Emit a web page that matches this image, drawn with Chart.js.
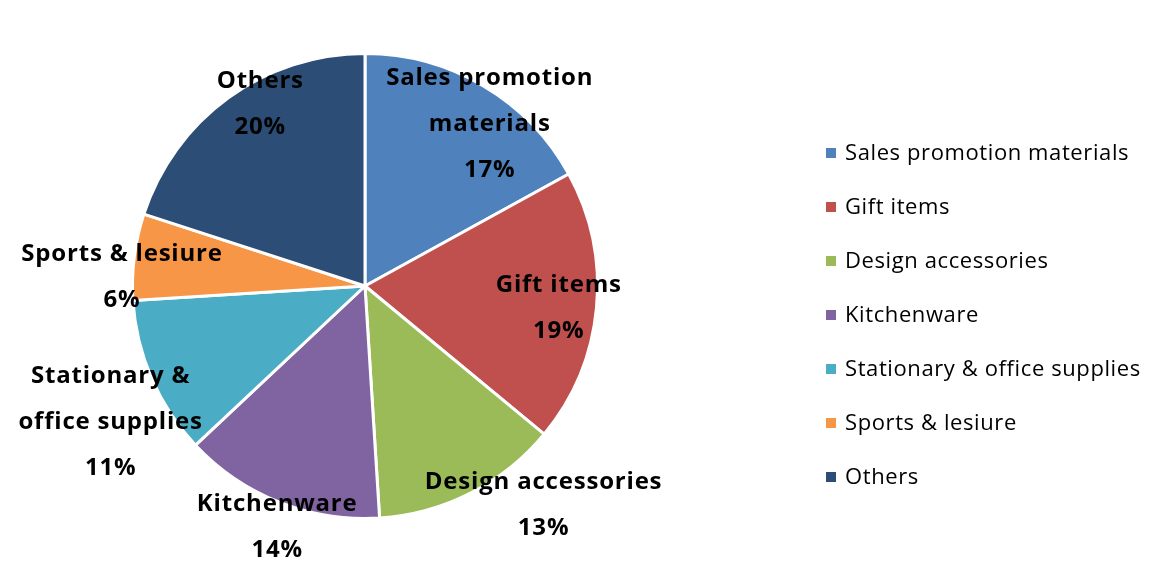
<!DOCTYPE html>
<html>
<head>
<meta charset="utf-8">
<script src="https://cdn.jsdelivr.net/npm/chart.js@4.4.1/dist/chart.umd.min.js"></script>
<style>
  html, body { margin: 0; padding: 0; background: #fff; }
  #wrap { width: 1160px; height: 584px; }
</style>
</head>
<body>
<div id="wrap"><canvas id="myPie"></canvas></div>
<script>
const categories = ['Sales promotion materials', 'Gift items', 'Design accessories', 'Kitchenware',
    'Stationary & office supplies', 'Sports & lesiure', 'Others']
const shares = [17, 19, 13, 14, 11, 6, 20]
// how each data label is broken over lines
const labelLines = [
    ['Sales promotion', 'materials'],
    ['Gift items'],
    ['Design accessories'],
    ['Kitchenware'],
    ['Stationary &', 'office supplies'],
    ['Sports & lesiure'],
    ['Others']
]
const colors = ['#4F81BD', '#C0504D', '#9BBB59', '#8064A2', '#4BACC6', '#F79646', '#2C4D75']

// label placement relative to each slice: distance as fraction of radius, angle nudge in degrees
const labelDist = [0.885, 0.838, 1.21, 1.099, 1.238, 1.046, 0.909]
const labelNudge = [6.7, 0.7, -12.4, -1.5, -4.5, -4.7, 6.3]

const FONT = '"Open Sans", "Noto Sans", sans-serif'

const sliceLabels = {
    id: 'sliceLabels',
    afterDatasetsDraw(chart) {
        const c = chart.ctx
        const meta = chart.getDatasetMeta(0)
        const data = chart.data.datasets[0].data
        const total = data.reduce((a, b) => a + b, 0)
        c.save()
        c.font = 'bold 24px ' + FONT
        c.letterSpacing = '0.8px'
        c.fillStyle = '#000'
        c.textAlign = 'center'
        c.textBaseline = 'middle'
        meta.data.forEach((arc, i) => {
            const p = arc.getProps(['x', 'y', 'startAngle', 'endAngle', 'outerRadius'], true)
            const a = (p.startAngle + p.endAngle) / 2 + labelNudge[i] * Math.PI / 180
            const r = p.outerRadius * labelDist[i]
            const cx = p.x + Math.cos(a) * r
            const cy = p.y + Math.sin(a) * r + 1.5
            const lines = labelLines[i].concat([Math.round(data[i] / total * 100) + '%'])
            const lh = 46
            const top = cy - (lines.length - 1) * lh / 2
            lines.forEach((t, k) => c.fillText(t, cx, top + k * lh))
        })
        c.restore()
    }
}

const sideLegend = {
    id: 'sideLegend',
    afterDraw(chart) {
        const c = chart.ctx
        const ds = chart.data.datasets[0]
        c.save()
        c.font = '22px ' + FONT
        c.letterSpacing = '0.6px'
        c.textAlign = 'left'
        c.textBaseline = 'middle'
        chart.data.labels.forEach((lab, i) => {
            const y = 153 + i * 54
            c.fillStyle = ds.backgroundColor[i]
            c.fillRect(826, y - 5, 10, 10)
            c.fillStyle = '#000'
            c.fillText(lab, 845, y + 1)
        })
        c.restore()
    }
}

const ctx = document.getElementById('myPie').getContext('2d')
const myPie = new Chart(ctx, {
    type: 'pie',
    data: {
        labels: categories,
        datasets: [{
            data: shares,
            backgroundColor: colors,
            borderColor: '#ffffff',
            borderWidth: 3
        }]
    },
    options: {
        responsive: true,
        maintainAspectRatio: false,
        animation: false,
        layout: {
            padding: { top: 52, bottom: 64, left: 0, right: 430 }
        },
        plugins: {
            legend: { display: false },
            tooltip: { enabled: false }
        }
    },
    plugins: [sliceLabels, sideLegend]
})
</script>
</body>
</html>
